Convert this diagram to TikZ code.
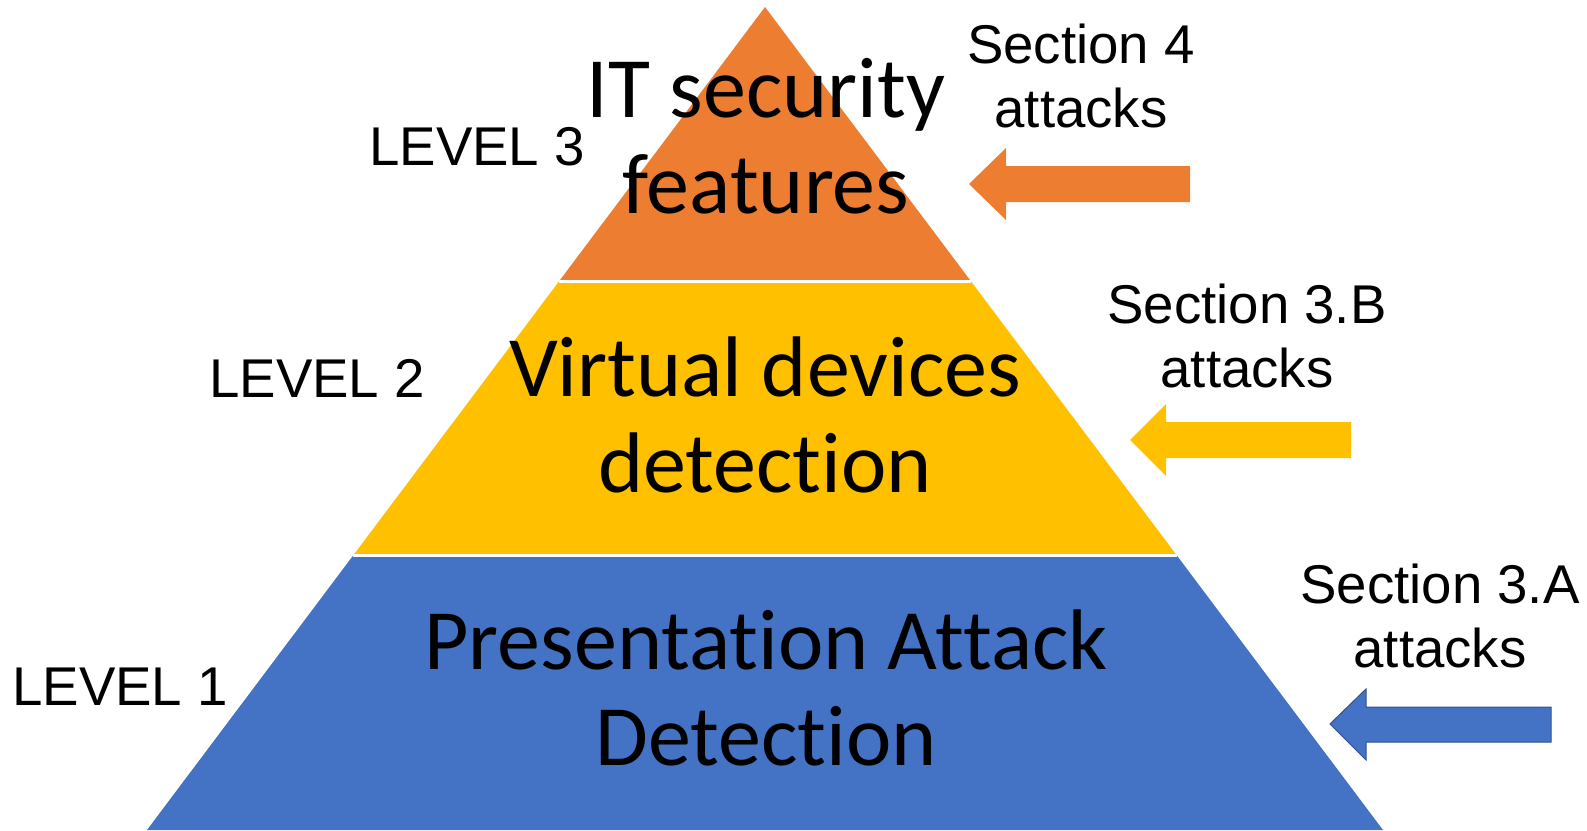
\documentclass[tikz,border=0pt]{standalone}
\usepackage{fontspec}
\setmainfont{Liberation Sans}
\newfontfamily\calibrifont[Ligatures=NoCommon]{Carlito}
\usepackage{tikz}
\usetikzlibrary{positioning,calc}

\definecolor{lvl_orange}{HTML}{ED7D31}
\definecolor{lvl_yellow}{HTML}{FFC000}
\definecolor{lvl_blue}{HTML}{4472C4}
\definecolor{lvl_blue_line}{HTML}{2F528F}

\tikzset{
  level_text/.style={font=\calibrifont\fontsize{43}{48}\selectfont, align=center, anchor=base, inner sep=0pt},
  side_text/.style={font=\fontsize{27.3}{32}\selectfont, align=center, anchor=base, inner sep=0pt},
  split_line/.style={white, line width=1.5pt}
}

\begin{document}
\begin{tikzpicture}[x=0.5pt, y=-0.5pt]
\useasboundingbox (0,0) rectangle (1587,831);
\coordinate (apex) at (765,7);
\coordinate (base_left) at (147,830);
\coordinate (base_right) at (1383,830);
\coordinate (left_a) at ($(apex)!1/3!(base_left)$);
\coordinate (right_a) at ($(apex)!1/3!(base_right)$);
\coordinate (left_b) at ($(apex)!2/3!(base_left)$);
\coordinate (right_b) at ($(apex)!2/3!(base_right)$);
\fill[lvl_blue] (left_b) -- (right_b) -- (base_right) -- (base_left) -- cycle;
\fill[lvl_yellow] (left_a) -- (right_a) -- (right_b) -- (left_b) -- cycle;
\fill[lvl_orange] (apex) -- (right_a) -- (left_a) -- cycle;
\draw[split_line] (left_a) -- (right_a);
\draw[split_line] (left_b) -- (right_b);
\node[level_text] (top_text) at (766,213) {IT security\\features};
\node[level_text] (mid_text) at (765,492) {Virtual devices\\detection};
\node[level_text] (low_text) at (766,765) {Presentation Attack\\Detection};
\node[side_text] (level_3) at (477,165) {LEVEL 3};
\node[side_text] (level_2) at (317,397) {LEVEL 2};
\node[side_text] (level_1) at (120,705) {LEVEL 1};
\node[side_text] (section_4) at (1081,127) {Section 4\\attacks};
\node[side_text] (section_3b) at (1247,387) {Section 3.B\\attacks};
\node[side_text] (section_3a) at (1440,667) {Section 3.A\\attacks};
\fill[lvl_orange] (1190,166) -- (1006,166) -- (1006,148) -- (969,184) -- (1006,220) -- (1006,202) -- (1190,202) -- cycle;
\fill[lvl_yellow] (1351,422) -- (1166,422) -- (1166,404) -- (1130,440) -- (1166,476) -- (1166,458) -- (1351,458) -- cycle;
\filldraw[fill=lvl_blue, draw=lvl_blue_line, line width=0.5pt] (1551,707) -- (1366,707) -- (1366,689) -- (1330,724) -- (1366,760) -- (1366,742) -- (1551,742) -- cycle;
\end{tikzpicture}
\end{document}
